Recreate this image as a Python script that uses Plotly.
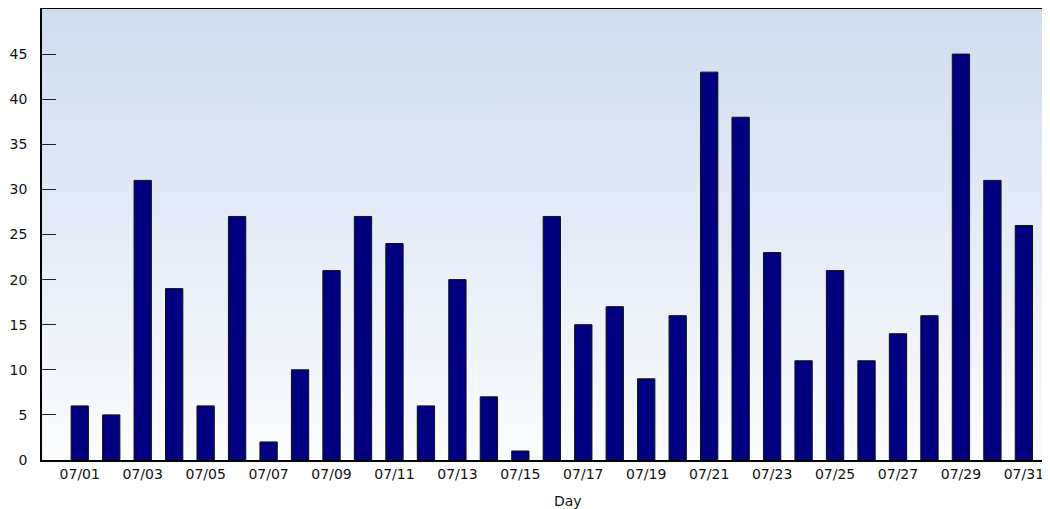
import plotly.graph_objects as go

days = [f"07/{d:02d}" for d in range(1, 32)]
values = [6, 5, 31, 19, 6, 27, 2, 10, 21, 27, 24, 6, 20, 7, 1, 27, 15, 17, 9, 16,
          43, 38, 23, 11, 21, 11, 14, 16, 45, 31, 26]
y_ticks = [0, 5, 10, 15, 20, 25, 30, 35, 40, 45]
x_title = "Day"

idx = list(range(len(days)))
x_lo, x_hi = -1.2, 30.83
y_lo, y_hi = 0, 50

fig = go.Figure()
# gradient background on the base axes
fig.add_trace(go.Scatter(
    x=[x_lo, x_hi, x_hi, x_lo, x_lo], y=[y_lo, y_lo, y_hi, y_hi, y_lo],
    fill="toself", mode="none", hoverinfo="skip", showlegend=False,
    fillgradient=dict(type="vertical", colorscale=[[0, "#fbfcfe"], [1, "#cfdcee"]]),
    xaxis="x", yaxis="y",
))
# bars on overlaid axes so they draw above the background
fig.add_trace(go.Bar(
    x=idx, y=values, width=0.55,
    marker=dict(color="#000080", line=dict(color="#111111", width=1)),
    showlegend=False, xaxis="x2", yaxis="y2",
))

fig.update_layout(
    width=1042, height=501,
    margin=dict(l=34, r=0, t=1, b=49),
    paper_bgcolor="white", plot_bgcolor="white",
    font=dict(family="DejaVu Sans", size=14, color="#111111"),
    xaxis=dict(
        range=[x_lo, x_hi], tickmode="array",
        tickvals=idx[::2], ticktext=days[::2],
        showgrid=False, zeroline=False, automargin=False,
        showline=True, linecolor="black", linewidth=1.5, mirror=True,
        ticks="",
    ),
    yaxis=dict(
        range=[y_lo, y_hi], tickmode="array", tickvals=y_ticks,
        showgrid=True, gridcolor="#dddddd", gridwidth=1, zeroline=False,
        automargin=False,
        showline=True, linecolor="black", linewidth=1.5,
        ticks="inside", ticklen=14, tickcolor="#222222", tickwidth=1,
        ticklabelstandoff=10,
    ),
    xaxis2=dict(range=[x_lo, x_hi], overlaying="x", visible=False, matches="x"),
    yaxis2=dict(range=[y_lo, y_hi], overlaying="y", visible=False, matches="y"),
    annotations=[dict(
        text=x_title, xref="paper", yref="paper", x=0.522, y=0,
        xanchor="center", yanchor="top", yshift=-31, showarrow=False,
        font=dict(size=14),
    )],
)
fig.write_html("out.html")
